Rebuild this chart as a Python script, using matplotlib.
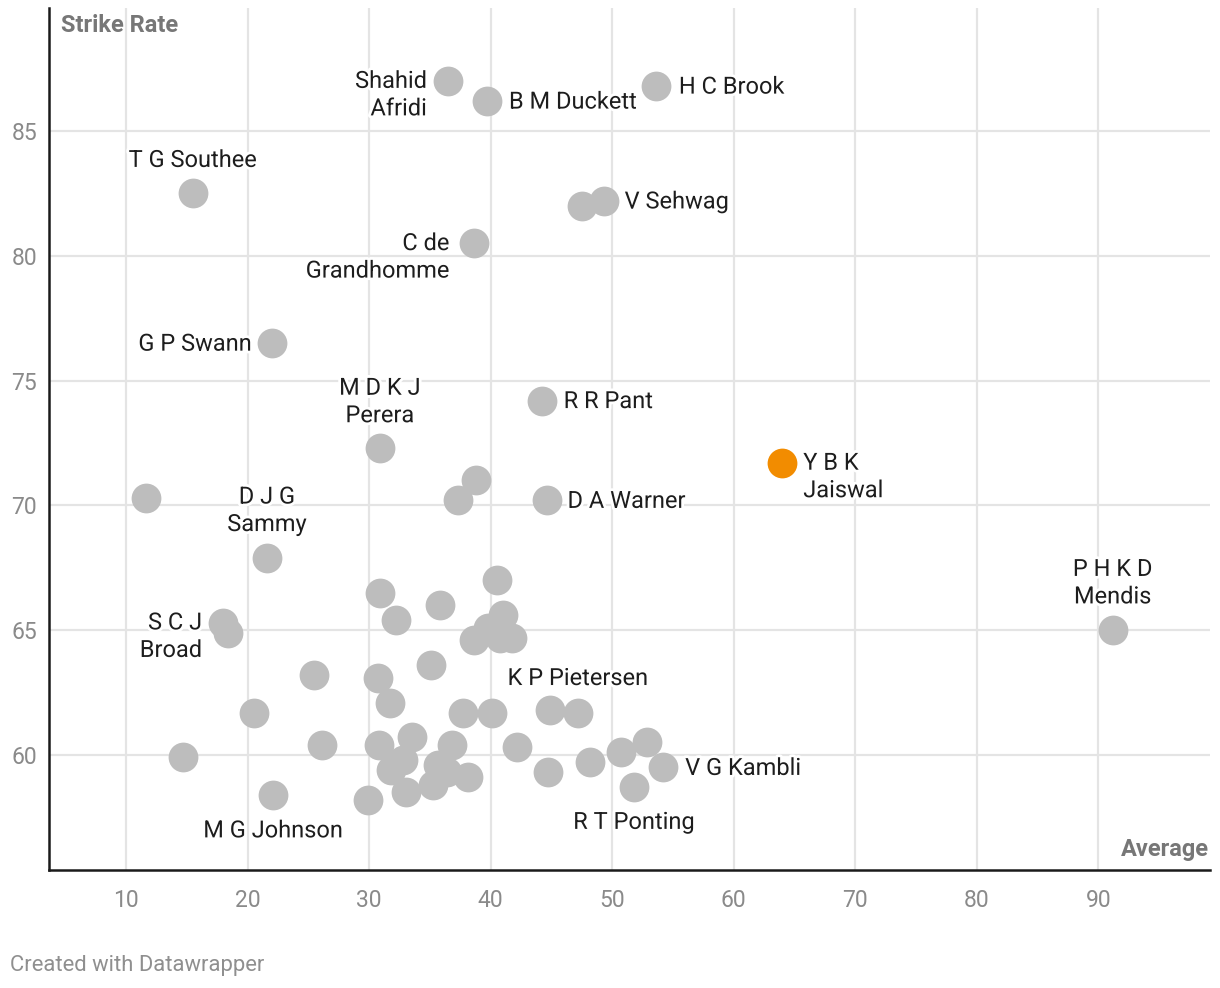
import matplotlib
matplotlib.use("Agg")
import matplotlib.pyplot as plt
import matplotlib.patheffects as pe

plt.rcParams['font.family'] = ['Roboto', 'DejaVu Sans']

# ---- data: (batting average, strike rate) ----
labeled_names = ["Shahid\nAfridi", "B M Duckett", "H C Brook", "T G Southee", "V Sehwag",
                 "C de\nGrandhomme", "G P Swann", "R R Pant", "M D K J\nPerera",
                 "D A Warner", "D J G\nSammy", "P H K D\nMendis", "S C J\nBroad",
                 "K P Pietersen", "V G Kambli", "R T Ponting", "M G Johnson"]
labeled_avg = [36.5, 39.7, 53.6, 15.5, 49.3, 38.6, 22.0, 44.2, 30.9,
               44.6, 21.6, 91.2, 18.0, 47.2, 54.2, 51.8, 22.1]
labeled_sr = [87.0, 86.2, 86.8, 82.5, 82.2, 80.5, 76.5, 74.2, 72.3,
              70.2, 67.9, 65.0, 65.3, 61.7, 59.5, 58.7, 58.4]
# label placement: (ha, dx px, dy px)
label_pos = [("right", -21, -13), ("left", 22, 0), ("left", 23, 0), ("center", 0, 34),
             ("left", 21, 0), ("right", -24, -13), ("right", -20, 0), ("left", 22, 0),
             ("center", 0, 47), ("left", 21, 0), ("center", 0, 48), ("center", 0, 48),
             ("right", -21, -13), ("center", 0, 35), ("left", 22, 0), ("center", 0, -34),
             ("center", 0, -35)]

highlight_name = "Y B K\nJaiswal"
highlight_avg = 64.0
highlight_sr = 71.7

other_avg = [47.5, 11.65, 38.8, 37.3, 18.4, 30.9, 35.8, 40.5, 32.2, 38.6, 39.8, 40.8,
             41.0, 41.8, 35.1, 25.5, 30.7, 31.7, 37.7, 40.1, 44.9, 20.5, 14.7, 26.1,
             30.8, 33.5, 36.8, 31.8, 32.8, 35.7, 35.3, 36.4, 38.1, 33.0, 29.9, 42.2,
             44.7, 48.2, 50.7, 52.9]
other_sr = [82.0, 70.3, 71.0, 70.2, 64.9, 66.5, 66.0, 67.0, 65.4, 64.6, 65.1, 64.7,
            65.6, 64.7, 63.6, 63.2, 63.1, 62.1, 61.7, 61.7, 61.8, 61.7, 59.9, 60.4,
            60.4, 60.7, 60.4, 59.4, 59.8, 59.6, 58.8, 59.3, 59.1, 58.5, 58.2, 60.3,
            59.3, 59.7, 60.1, 60.5]

x_ticks = [10, 20, 30, 40, 50, 60, 70, 80, 90]
y_ticks = [60, 65, 70, 75, 80, 85]

GREY = "#bdbdbd"
ORANGE = "#f28c00"

fig = plt.figure(figsize=(12.2, 9.88), dpi=100)
ax = fig.add_axes([49/1220, 1 - 870/988, (1210-49)/1220, (870-8)/988])
ax.set_xlim(3.66, 99.2)
ax.set_ylim(55.39, 89.93)

ax.set_xticks(x_ticks)
ax.set_yticks(y_ticks)
ax.grid(True, color="#e4e4e4", linewidth=1.6, zorder=0)
ax.set_axisbelow(True)
for s in ["top", "right"]:
    ax.spines[s].set_visible(False)
for s in ["left", "bottom"]:
    ax.spines[s].set_color("#1a1a1a")
    ax.spines[s].set_linewidth(1.8)
    ax.spines[s].set_zorder(5)
ax.tick_params(axis="both", length=0, colors="#8a8a8a", labelsize=16.5)
ax.tick_params(axis="x", pad=13.5)
ax.tick_params(axis="y", pad=8.5)

S = 460
ax.scatter(other_avg, other_sr, s=S, color=GREY, linewidths=0, zorder=3)
ax.scatter(labeled_avg, labeled_sr, s=S, color=GREY, linewidths=0, zorder=3)
ax.scatter([highlight_avg], [highlight_sr], s=S, color=ORANGE, linewidths=0, zorder=4)

halo = [pe.withStroke(linewidth=4, foreground="white")]
px2pt = 72 / 100

def put_label(txt, x, y, ha, dx, dy):
    ax.annotate(txt, (x, y), xytext=(dx * px2pt, dy * px2pt), textcoords="offset points",
                ha=ha, va="center", multialignment=ha if ha != "center" else "center",
                fontsize=17, color="#1d1d1d", linespacing=1.25, zorder=6,
                path_effects=halo)

for name, xa, ya, (ha, dx, dy) in zip(labeled_names, labeled_avg, labeled_sr, label_pos):
    put_label(name, xa, ya - 0.04, ha, dx, dy)
put_label(highlight_name, highlight_avg, highlight_sr - 0.04, "left", 21, -13)

# axis titles
fig.text(61/1220, 1 - 25/988, "Strike Rate", ha="left", va="center",
         fontsize=17, fontweight="bold", color="#777777")
fig.text(1209/1220, 1 - 849/988, "Average", ha="right", va="center",
         fontsize=17, fontweight="bold", color="#777777")

fig.text(10/1220, 1 - 965/988, "Created with Datawrapper", ha="left", va="center",
         fontsize=15.8, color="#8f8f8f")

fig.savefig("out.png", dpi=100)
